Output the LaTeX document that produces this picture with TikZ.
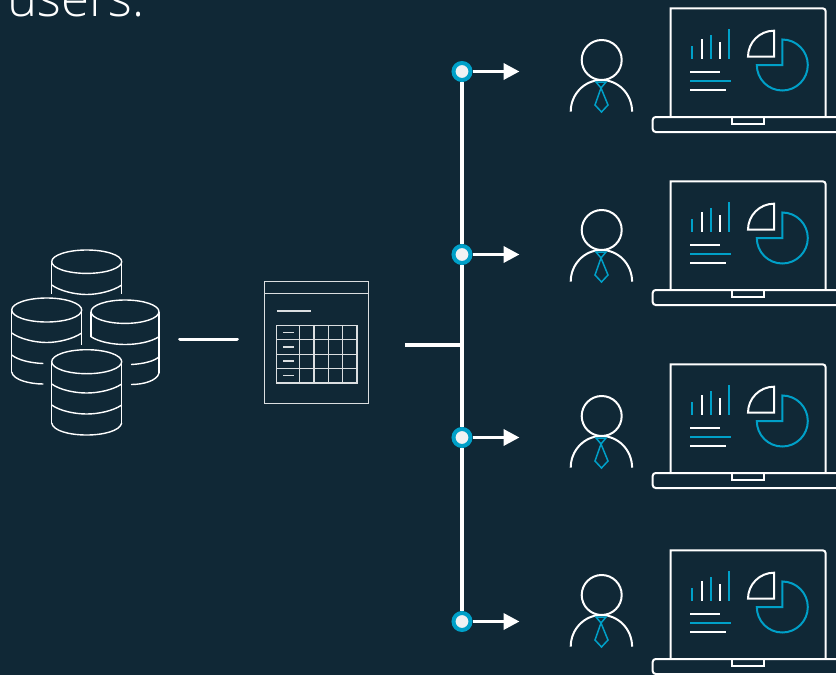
\documentclass[tikz,border=0pt]{standalone}
\usepackage{fontspec}
\setmainfont{Open Sans Light}
\usetikzlibrary{arrows.meta}
\definecolor{panel}{HTML}{102836}
\definecolor{accent}{HTML}{00A0C8}
\tikzset{
  wire/.style={white,line width=3.6pt},
  thinline/.style={white,line width=1.4pt},
  sheetline/.style={white!85!panel,line width=1.4pt},
  iconline/.style={white,line width=2pt},
  blueline/.style={accent,line width=2pt},
  junction/.style={circle,fill=white!94!panel,draw=accent,line width=4pt,minimum size=17pt,inner sep=0pt},
  person/.pic={
    \draw[iconline] (601.7,60) circle (20pt);
    \draw[iconline] (570.7,111.7) arc[start angle=180,end angle=0,x radius=30.7pt,y radius=31.7pt];
    \draw[blueline,line width=1.5pt] (596,82) -- (606,82) -- (601,88) -- cycle;
    \draw[blueline,line width=1.5pt] (601,88) -- (595,105) -- (601.5,112) -- (608,105) -- cycle;
  },
  laptop/.pic={
    \draw[iconline] (670.7,116.7) -- (670.7,8.3) [rounded corners=3pt] -- (825.7,8.3) -- (825.7,116.7);
    \draw[iconline,rounded corners=3pt] (652.7,117) -- (652.7,132) -- (845,132) -- (845,117) -- cycle;
    \draw[iconline] (732,117) -- (732,124) -- (763.7,124) -- (763.7,117);
    \foreach \x/\t in {692/46,710.7/34.7,729/29.3}
      \draw[blueline] (\x,58.7) -- (\x,\t);
    \foreach \x/\t in {701.7/39,719.7/41.7}
      \draw[iconline] (\x,58.7) -- (\x,\t);
    \draw[iconline] (690,71.7) -- (720,71.7);
    \draw[blueline] (690,80.7) -- (731.3,80.7);
    \draw[iconline] (690,89.7) -- (725.7,89.7);
    \draw[iconline] (774,56.7) -- (774,30.7) arc[start angle=90,end angle=180,radius=26pt] -- cycle;
    \draw[blueline] (782.3,65) -- (782.3,39.5) arc[start angle=90,end angle=-180,radius=25.5pt] -- cycle;
  },
}
\begin{document}
\begin{tikzpicture}[x=1pt,y=-1pt]
  \useasboundingbox (0,0) rectangle (836,675);
  \clip (0,0) rectangle (836,675);
  \fill[panel] (0,0) rectangle (836,675);

  \node[white,anchor=base west,inner sep=0pt,font=\fontsize{51}{51}\selectfont] (title) at (7,16.7) {users.};

  % database stack
  \draw[thinline] (51.7,261.7) -- (51.7,294) (121.7,261.7) -- (121.7,294);
  \draw[thinline] (86.7,261.7) ellipse [x radius=35pt,y radius=11.7pt];
  \draw[thinline] (51.7,285) .. controls (60,291) and (75,294.5) .. (86.7,294.5) .. controls (98,294.5) and (113,291) .. (121.7,285);

  \draw[thinline] (11.7,310) -- (11.7,372) (81.7,310) -- (81.7,345);
  \draw[thinline] (46.7,310) ellipse [x radius=35pt,y radius=12pt];
  \draw[thinline] (11.7,333) .. controls (20,339) and (35,342.5) .. (46.7,342.5) .. controls (58,342.5) and (73,339) .. (81.7,333);
  \draw[thinline] (11.7,355) .. controls (18,360) and (30,363) .. (43.3,363.5);
  \draw[thinline] (11.7,372) .. controls (13,380) and (30,384) .. (43.3,384);

  \draw[thinline] (91,311.7) -- (91,337) (159,311.7) -- (159,373);
  \draw[thinline] (125,311.7) ellipse [x radius=34pt,y radius=11.7pt];
  \draw[thinline] (91,336.7) .. controls (99,342) and (113,344.5) .. (125,344.5) .. controls (137,344.5) and (151,342) .. (159,336.7);
  \draw[thinline] (159,356.7) .. controls (155,361) and (143,364) .. (131,364.5);
  \draw[thinline] (159,373) .. controls (157,381) and (143,384.5) .. (131,384.5);

  \draw[thinline] (51.7,361.7) -- (51.7,423) (121.7,361.7) -- (121.7,423);
  \draw[thinline] (86.7,361.7) ellipse [x radius=35pt,y radius=12pt];
  \foreach \y in {384,405}
    \draw[thinline] (51.7,\y) .. controls (60,\y+6) and (75,\y+9) .. (86.7,\y+9) .. controls (98,\y+9) and (113,\y+6) .. (121.7,\y);
  \draw[thinline] (51.7,423) .. controls (53,431) and (70,435) .. (86.7,435) .. controls (103,435) and (120,431) .. (121.7,423);

  % table sheet
  \draw[sheetline] (264.3,281.7) rectangle (368.3,403.3);
  \draw[sheetline] (264.3,293.3) -- (368.3,293.3);
  \draw[sheetline] (276.7,311) -- (310.7,311);
  \draw[sheetline] (276.7,325.3) rectangle (357,383);
  \foreach \x in {299.7,314,328.7,342.7}
    \draw[sheetline] (\x,325.3) -- (\x,383);
  \foreach \y in {339.7,354.3,368.7}
    \draw[sheetline] (276.7,\y) -- (357,\y);
  \foreach \y in {332.7,347,361,375.3}
    \draw[sheetline] (283,\y) -- (294.3,\y);

  \coordinate (dbEnd) at (180,339.3);
  \coordinate (tableStart) at (237,339.3);
  \draw[wire,line cap=round] (dbEnd) -- (tableStart);

  % users
  \foreach \n/\y/\p/\l in {1/71.5/0/0,2/254.5/170/173,3/437.5/356/356,4/621.5/535/542} {
    \node[junction] (dot\n) at (462,\y) {};
    \coordinate (tip\n) at (519.5,\y);
    \draw[wire,-{Triangle[length=16pt,width=16pt]}] (dot\n) -- (tip\n);
    \pic at (0,\p) {person};
    \pic at (0,\l) {laptop};
  }
  \draw[wire] (dot1) -- (dot2);
  \draw[wire] (dot2) -- (dot3);
  \draw[wire] (dot3) -- (dot4);
  \coordinate (busIn) at (405,345);
  \draw[wire] (busIn) -- (busIn -| dot1);
\end{tikzpicture}
\end{document}
